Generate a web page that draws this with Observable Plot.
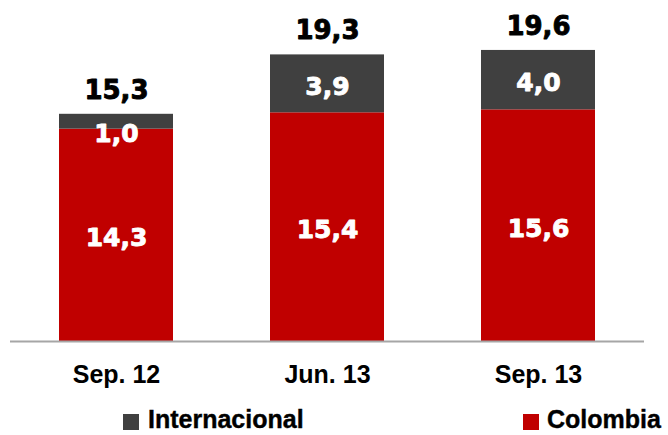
<!DOCTYPE html>
<html>
<head>
<meta charset="utf-8">
<script src="https://cdn.jsdelivr.net/npm/d3@7"></script>
<script src="https://cdn.jsdelivr.net/npm/@observablehq/plot@0.6"></script>
<style>
  body { margin: 0; background: #fff; }
  #legend { position: relative; width: 668px; height: 40px; font-family: "Liberation Sans", Arial, sans-serif; font-weight: bold; font-size: 25px; line-height: 25px; color: #000; -webkit-text-stroke: 0.4px #000; }
  #legend .sw { position: absolute; width: 16px; height: 16px; }
  #legend .lb { position: absolute; white-space: nowrap; }
</style>
</head>
<body>
<div id="chart"></div>
<div id="legend"></div>
<script>
const periods = ["Sep. 12", "Jun. 13", "Sep. 13"];
const colombia = [14.3, 15.4, 15.6];
const internacional = [1.0, 3.9, 4.0];
const totals = [15.3, 19.3, 19.6];
const seriesNames = ["Colombia", "Internacional"];
const seriesColors = ["#C00000", "#404040"];

const fmt = v => d3.format(".1f")(v).replace(".", ",");

const rows = [
  ...periods.map((p, i) => ({period: p, series: "Colombia", value: colombia[i]})),
  ...periods.map((p, i) => ({period: p, series: "Internacional", value: internacional[i]}))
];
const totalRows = periods.map((p, i) => ({period: p, total: totals[i]}));

const numFont = "'DejaVu Sans', sans-serif";

const chart = Plot.plot({
  width: 668,
  height: 395,
  marginTop: 44,
  marginBottom: 54,
  marginLeft: 10,
  marginRight: 24,
  style: {fontFamily: "'Liberation Sans', Arial, sans-serif", background: "#fff"},
  x: {domain: periods, paddingInner: 0.46, paddingOuter: 0.23, label: null},
  y: {domain: [0, 20], axis: null},
  color: {domain: seriesNames, range: seriesColors},
  marks: [
    Plot.barY(rows, {x: "period", y: "value", fill: "series", z: "series"}),
    Plot.ruleY([0], {stroke: "#a6a6a6", strokeWidth: 2}),
    Plot.text(rows, Plot.stackY({
      x: "period", y: "value", z: "series",
      text: d => d.value >= 2 ? fmt(d.value) : null,
      fill: "white", stroke: "white", strokeWidth: 0.9, fontSize: 25, fontWeight: "bold",
      fontFamily: numFont, dy: 3
    })),
    Plot.text(rows, Plot.stackY({
      x: "period", y: "value", z: "series",
      text: d => d.value < 2 ? fmt(d.value) : null,
      fill: "white", stroke: "white", strokeWidth: 0.9, fontSize: 25, fontWeight: "bold",
      fontFamily: numFont, dy: 12
    })),
    Plot.text(totalRows, {
      x: "period", y: "total", text: d => fmt(d.total),
      fill: "black", stroke: "black", strokeWidth: 0.9, fontSize: 26, fontWeight: "bold",
      fontFamily: numFont, dy: -24
    }),
    Plot.axisX({tickSize: 0, tickPadding: 24, fontSize: 25, fontWeight: "bold", fill: "black", label: null})
  ]
});
document.getElementById("chart").appendChild(chart);

const legend = document.getElementById("legend");
const legendItems = [
  {name: seriesNames[1], color: seriesColors[1], sx: 123, tx: 148},
  {name: seriesNames[0], color: seriesColors[0], sx: 523, tx: 547}
];
legendItems.forEach(it => {
  const sw = document.createElement("span");
  sw.className = "sw";
  sw.style.left = it.sx + "px";
  sw.style.top = "19px";
  sw.style.background = it.color;
  legend.appendChild(sw);
  const lb = document.createElement("span");
  lb.className = "lb";
  lb.style.left = it.tx + "px";
  lb.style.top = "12px";
  lb.textContent = it.name;
  legend.appendChild(lb);
});
</script>
</body>
</html>
